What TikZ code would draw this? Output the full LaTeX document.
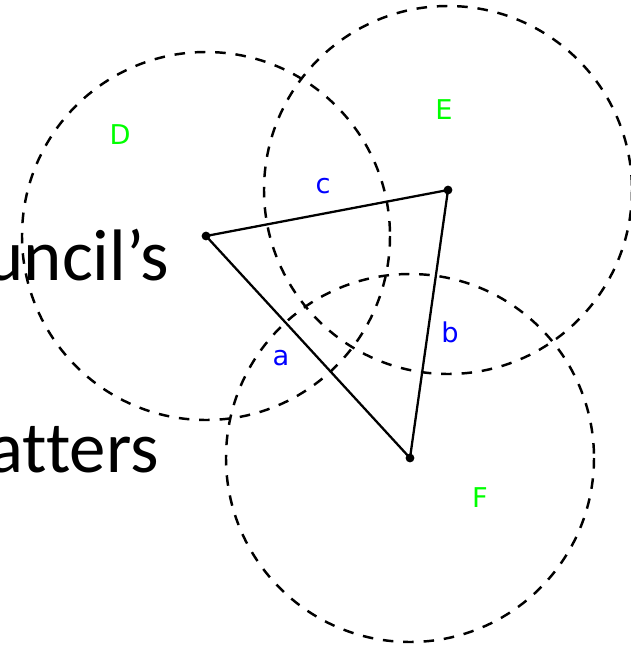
\documentclass[tikz,border=0pt]{standalone}
\usepackage{fontspec}
\newfontfamily\slidefont[Ligatures=NoCommon]{Carlito}
\newfontfamily\labelfont{DejaVu Sans}
\usetikzlibrary{positioning}
\definecolor{sideblue}{RGB}{0,0,255}
\definecolor{pointgreen}{RGB}{0,255,0}

\begin{document}
\begin{tikzpicture}[x=0.02cm, y=-0.02cm,
	reach/.style={dash pattern=on 6pt off 5.6pt, line width=1.4pt},
	side/.style={line width=1.3pt},
	vertex/.style={circle, fill, inner sep=0pt, minimum size=5pt},
	sidelabel/.style={text=sideblue, font=\labelfont\fontsize{15.5}{18}\selectfont, inner sep=0pt},
	ptlabel/.style={text=pointgreen, font=\labelfont\fontsize{15.5}{18}\selectfont, inner sep=0pt},
	slide/.style={font=\slidefont\fontsize{41.5}{44}\selectfont, inner sep=0pt}]
	\useasboundingbox (0,0) rectangle (631,646);
	% text behind the figure
	\node[slide, anchor=base east] (council) at (169,280) {uncil’s};
	\node[slide, anchor=base east] (matters) at (159,472) {atters};
	% centres
	\node[vertex] (d) at (206,236) {};
	\node[vertex] (e) at (448,190) {};
	\node[vertex] (f) at (410,458) {};
	% circles of equal radius
	\draw[reach] (d.center) circle[radius=184];
	\draw[reach] (e.center) circle[radius=184];
	\draw[reach] (f.center) circle[radius=184];
	% triangle
	\draw[side] (d.center) -- (e.center) -- (f.center) -- cycle;
	\node[sidelabel] (a) at (281,358) {a};
	\node[sidelabel] (b) at (450,332) {b};
	\node[sidelabel] (c) at (323,186) {c};
	\node[ptlabel] (dl) at (120,135) {D};
	\node[ptlabel] (el) at (444,110) {E};
	\node[ptlabel] (fl) at (480,498) {F};
\end{tikzpicture}
\end{document}
